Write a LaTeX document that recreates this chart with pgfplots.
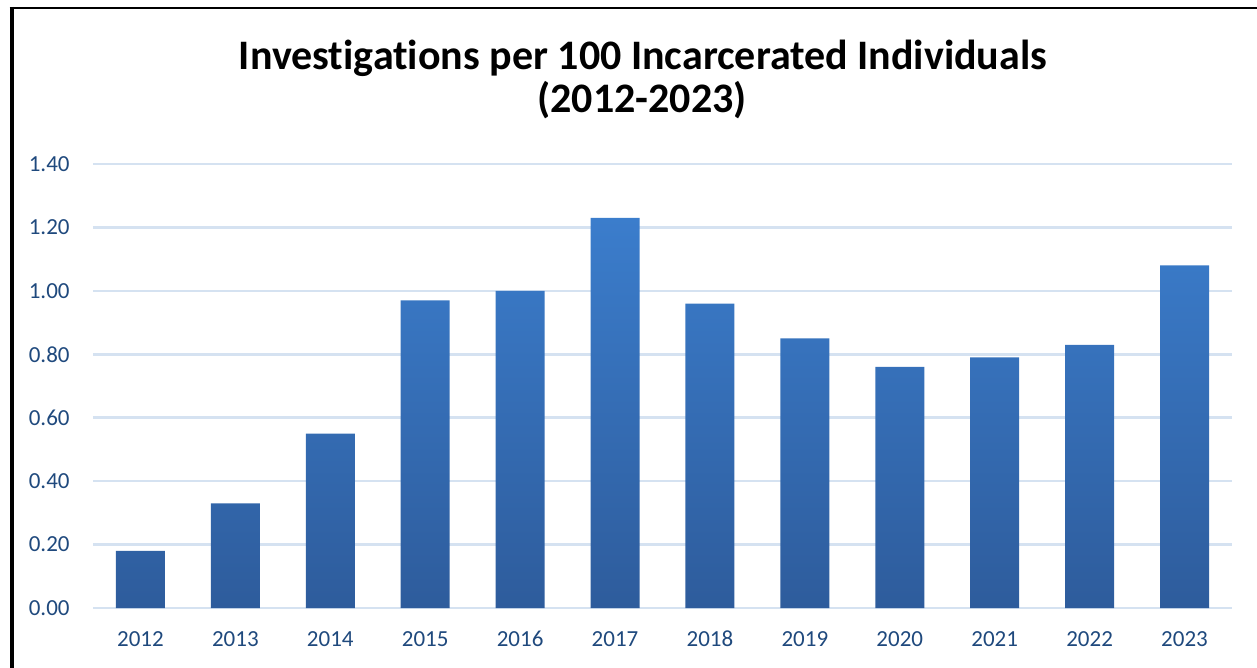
\documentclass[border=0pt]{standalone}
\usepackage{fontspec}
\setmainfont{Carlito}[Ligatures=NoCommon]
\usepackage{pgfplots}
\pgfplotsset{compat=1.18}

\definecolor{barTop}{RGB}{59,125,204}
\definecolor{barBot}{RGB}{46,92,156}
\definecolor{gridc}{RGB}{213,226,241}
\definecolor{tickc}{RGB}{31,73,125}

\begin{document}
\begin{tikzpicture}
  % picture box (1px = 0.5pt, origin top left)
  \useasboundingbox (0,0) rectangle (628.5pt,-334pt);
  \draw[line width=1pt] (4.8pt,-4pt) -- (628.5pt,-4pt);
  \draw[line width=2pt] (5.75pt,-3.5pt) -- (5.75pt,-334pt);

  \node[font=\fontsize{21}{24}\selectfont\bfseries, anchor=base] at (321.5pt,-34.8pt)
    {Investigations per 100 Incarcerated Individuals};
  \node[font=\fontsize{21}{24}\selectfont\bfseries, anchor=base] at (321pt,-56.5pt)
    {(2012-2023)};

  \begin{axis}[
      at={(46.5pt,-304pt)}, anchor=south west,
      scale only axis,
      width=569.5pt, height=222pt,
      xmin=-0.5, xmax=11.5,
      ymin=0, ymax=1.4,
      ytick={0,0.2,0.4,0.6,0.8,1.0,1.2,1.4},
      xtick=data,
      xticklabels={2012,2013,2014,2015,2016,2017,2018,2019,2020,2021,2022,2023},
      /pgf/number format/assume math mode=true,
      ticklabel style={font=\fontsize{11.5}{13}\selectfont, text=tickc},
      yticklabel style={/pgf/number format/fixed, /pgf/number format/fixed zerofill,
        /pgf/number format/precision=2, anchor=east, inner sep=0pt, xshift=-11.5pt},
      xticklabel style={anchor=base, yshift=-19.35pt},
      major tick length=0pt,
      axis line style={draw=none},
      ymajorgrids,
      grid style={color=gridc, line width=1.3pt},
      ybar, bar width=24.5pt,
    ]
    \addplot[draw=none, shading=axis, top color=barTop, bottom color=barBot]
      coordinates {
        (0,0.18) (1,0.33) (2,0.55) (3,0.97) (4,1.00) (5,1.23)
        (6,0.96) (7,0.85) (8,0.76) (9,0.79) (10,0.83) (11,1.08)
      };
  \end{axis}
\end{tikzpicture}
\end{document}
